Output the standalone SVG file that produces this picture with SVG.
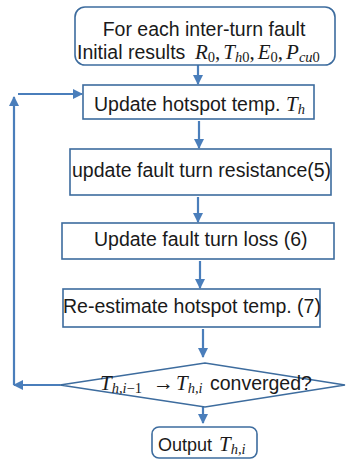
<svg xmlns="http://www.w3.org/2000/svg" width="346" height="464" viewBox="0 0 346 464">
  <defs>
    <marker id="arrow" viewBox="0 0 10 10" refX="9" refY="5" markerWidth="4.6" markerHeight="4.6" orient="auto" markerUnits="strokeWidth">
      <path d="M0,0 L10,5 L0,10 z" fill="#4A7EBB"/>
    </marker>
    <style>
      .box { fill: #ffffff; stroke: #3D6C9E; stroke-width: 1.6; }
      .lbl { font-family: "Liberation Sans", Arial, sans-serif; font-size: 19.5px; fill: #1a1a1a; }
      .m { font-family: "Liberation Serif", "Times New Roman", serif; font-style: italic; font-size: 21px; }
      .n { font-family: "Liberation Serif", "Times New Roman", serif; font-style: normal; font-size: 21px; }
      .sub { font-size: 14.5px; }
      .edge { fill: none; stroke: #4A7EBB; stroke-width: 2.2; }
    </style>
  </defs>
  <rect width="346" height="464" fill="#ffffff"/>

  <!-- connectors -->
  <g id="connectors">
    <line class="edge" x1="198" y1="65" x2="198" y2="84" marker-end="url(#arrow)"/>
    <line class="edge" x1="199" y1="121" x2="199" y2="148" marker-end="url(#arrow)"/>
    <line class="edge" x1="198" y1="197" x2="198" y2="222" marker-end="url(#arrow)"/>
    <line class="edge" x1="200" y1="261" x2="200" y2="288" marker-end="url(#arrow)"/>
    <line class="edge" x1="203" y1="329" x2="203" y2="357" marker-end="url(#arrow)"/>
    <line class="edge" x1="203" y1="407" x2="203" y2="423" marker-end="url(#arrow)"/>
    <!-- loop back from the decision to the hotspot update -->
    <line class="edge" x1="60" y1="385" x2="14" y2="385" marker-end="url(#arrow)"/>
    <line class="edge" x1="14" y1="385" x2="14" y2="97" marker-end="url(#arrow)"/>
    <line class="edge" x1="18" y1="94" x2="82" y2="94" marker-end="url(#arrow)"/>
  </g>

  <g id="start">
    <rect class="box" x="75" y="7" width="260" height="58" rx="10"/>
    <text class="lbl" x="204" y="36" text-anchor="middle">For each inter-turn fault</text>
    <text class="lbl" x="77" y="59">Initial results <tspan class="m" x="195">R</tspan><tspan class="n sub" dy="3">0</tspan><tspan class="n" dy="-3">,</tspan><tspan class="m" dx="3">T</tspan><tspan class="m sub" dy="3">h</tspan><tspan class="n sub">0</tspan><tspan class="n" dy="-3">,</tspan><tspan class="m" dx="3">E</tspan><tspan class="n sub" dy="3">0</tspan><tspan class="n" dy="-3">,</tspan><tspan class="m" dx="3">P</tspan><tspan class="m sub" dy="3">cu</tspan><tspan class="n sub">0</tspan></text>
  </g>

  <g id="update-hotspot">
    <rect class="box" x="83" y="85" width="231" height="34"/>
    <text class="lbl" x="94" y="111">Update hotspot temp. <tspan class="m" x="286">T</tspan><tspan class="m sub" dy="3">h</tspan></text>
  </g>

  <g id="update-resistance">
    <rect class="box" x="70" y="149" width="261" height="46"/>
    <text class="lbl" x="72" y="177">update fault turn resistance(5)</text>
  </g>

  <g id="update-loss">
    <rect class="box" x="62" y="223" width="272" height="36"/>
    <text class="lbl" x="94" y="246">Update fault turn loss (6)</text>
  </g>

  <g id="reestimate">
    <rect class="box" x="63" y="289" width="257" height="38"/>
    <text class="lbl" x="63" y="313">Re-estimate hotspot temp. (7)</text>
  </g>

  <g id="converged">
    <polygon class="box" points="60,385 205,363 345,385 205,407"/>
    <text class="lbl" x="100" y="390"><tspan class="m">T</tspan><tspan class="m sub" dy="3">h,i</tspan><tspan class="n sub">−1</tspan><tspan class="n" dy="-3" x="153">→</tspan><tspan class="m" x="176">T</tspan><tspan class="m sub" dy="3">h,i</tspan><tspan dy="-3" x="210">converged?</tspan></text>
  </g>

  <g id="output">
    <rect class="box" x="152" y="427" width="105" height="31" rx="7"/>
    <text class="lbl" x="158" y="451" style="font-size:18px">Output <tspan class="m" x="219">T</tspan><tspan class="m sub" dy="3">h,i</tspan></text>
  </g>
</svg>
